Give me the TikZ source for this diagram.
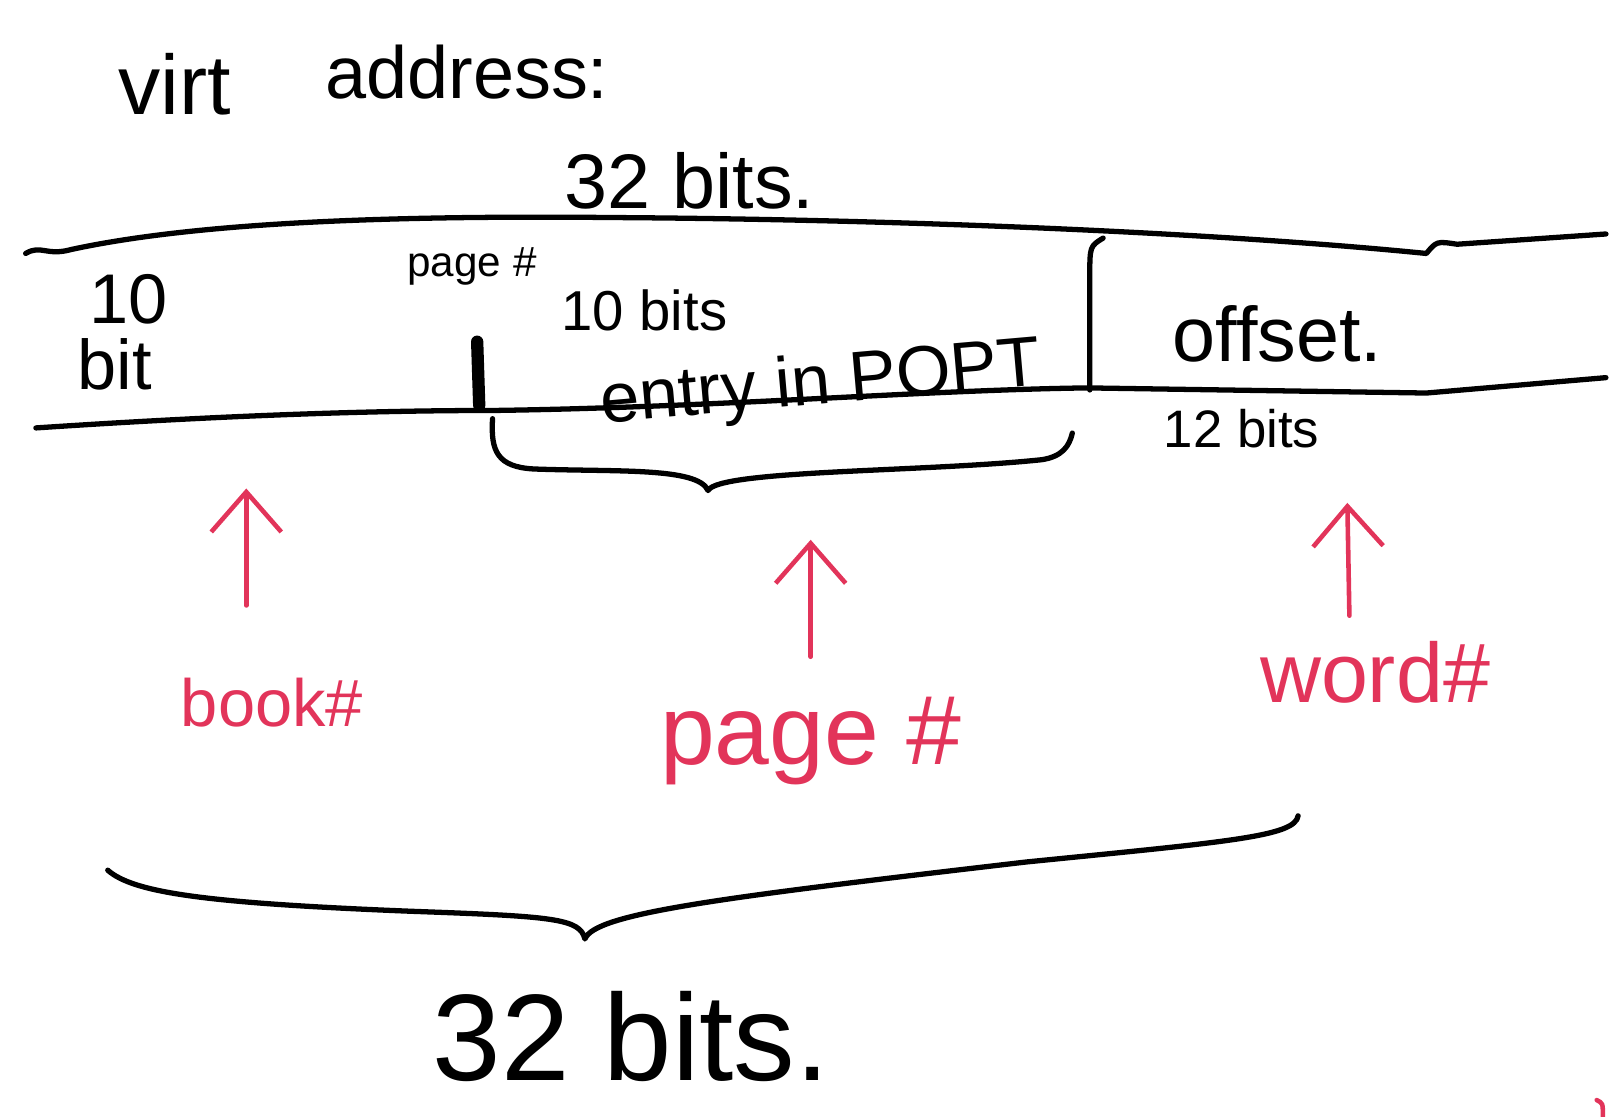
\documentclass[tikz,border=0pt]{standalone}
\usepackage{fontspec}
\setmainfont{Liberation Sans}
\usetikzlibrary{arrows.meta}
\definecolor{inkred}{RGB}{226,52,90}
\tikzset{
  pen/.style={line width=1.5pt, line cap=round, line join=round},
  redpen/.style={line width=1.3pt, line cap=round, draw=inkred, -{Straight Barb[length=4mm,width=7mm]}},
  hand/.style={inner sep=0pt, font=\fontsize{#1}{#1}\selectfont},
  redhand/.style={hand=#1, text=inkred}
}
\begin{document}
\begin{tikzpicture}[x=0.01026cm, y=-0.01026cm]
  \useasboundingbox (0,0) rectangle (1568,1088);
  % heading
  \node[hand=24] (virt) at (170,82) {virt};
  \node[hand=21] (addr) at (455,70) {address:};
  \node[hand=22] (total) at (672,176) {32 bits.};
  % the address register
  \draw[pen] (25,247) .. controls (40,238) and (45,250) .. (70,243)
    .. controls (200,215) and (400,210) .. (600,212)
    .. controls (900,214) and (1200,228) .. (1390,247)
    .. controls (1400,235) .. (1420,238) -- (1565,228);
  \draw[pen] (35,417) .. controls (200,406) and (350,400) .. (480,400)
    .. controls (700,397) and (900,380) .. (1060,378) -- (1390,383)
    -- (1565,368);
  \draw[pen] (1075,232) .. controls (1062,240) .. (1062,270) -- (1062,380);
  \draw[line width=3.5pt, line cap=round] (465,333) -- (467,395);
  % fields
  \node[hand=20] (ten) at (125,292) {10};
  \node[hand=20] (bit) at (112,355) {bit};
  \node[hand=12] (pg) at (460,260) {page \#};
  \node[hand=16] (tenbits) at (628,302) {10 bits};
  \node[hand=20, rotate=5] (entry) at (800,376) {entry in POPT};
  \node[hand=22] (off) at (1245,325) {offset.};
  \node[hand=15] (twelve) at (1210,418) {12 bits};
  % brace under the page field
  \draw[pen] (480,408) .. controls (478,440) and (485,455) .. (520,457)
    .. controls (600,460) and (680,455) .. (690,478)
    .. controls (700,458) and (900,460) .. (1015,448)
    .. controls (1035,445) and (1042,435) .. (1045,422);
  % what each field picks
  \node[redhand=19] (book) at (265,685) {book\#};
  \node[redhand=28] (page) at (790,722) {page \#};
  \node[redhand=24] (word) at (1340,655) {word\#};
  \coordinate (booktip) at (240,476);
  \coordinate (pagetip) at (790,526);
  \coordinate (wordtip) at (1313,490);
  \draw[redpen] (240,590) -- (booktip);
  \draw[redpen] (790,640) -- (pagetip);
  \draw[redpen] (1315,600) -- (wordtip);
  % brace over the whole address
  \draw[pen] (105,848) .. controls (130,870) and (200,880) .. (400,888)
    .. controls (540,893) and (565,895) .. (570,915)
    .. controls (580,890) and (700,875) .. (1000,840)
    .. controls (1200,820) and (1262,815) .. (1265,795);
  \node[hand=35] (all) at (615,1010) {32 bits.};
  \draw[line width=1.3pt, inkred, line cap=round] (1556,1072) .. controls (1562,1075) .. (1562,1088);
\end{tikzpicture}
\end{document}
